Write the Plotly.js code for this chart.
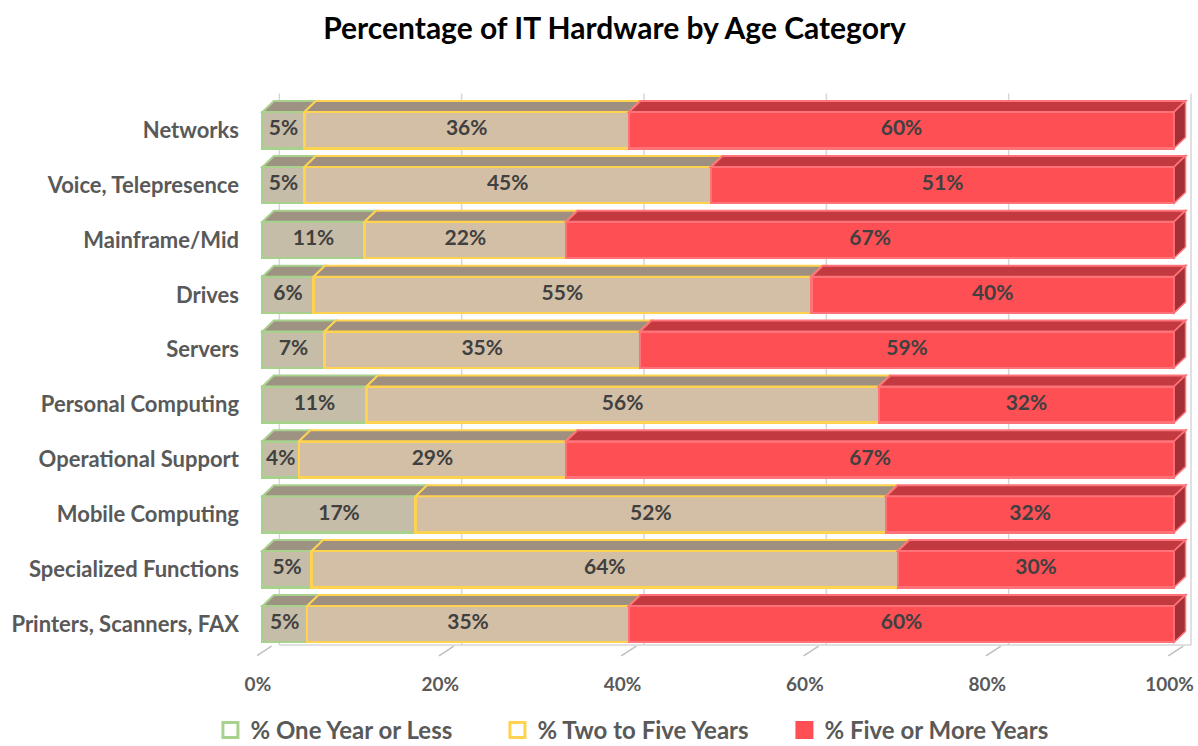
<!DOCTYPE html>
<html>
<head>
<meta charset="utf-8">
<script src="https://cdn.plot.ly/plotly-3.0.1.min.js"></script>
<style>html,body{margin:0;padding:0;background:#fff}#chart{width:1198px;height:746px}</style>
</head>
<body>
<div id="chart"></div>
<script>
// Categories from bottom to top
const categories = ['Printers, Scanners, FAX', 'Specialized Functions', 'Mobile Computing', 'Operational Support', 'Personal Computing', 'Servers', 'Drives', 'Mainframe/Mid', 'Voice, Telepresence', 'Networks'];
const oneYearOrLess = [4.9, 5.4, 16.8, 4.0, 11.4, 6.8, 5.6, 11.2, 4.6, 4.6];
const twoToFiveYears = [35.3, 64.3, 51.6, 29.3, 56.2, 34.6, 54.6, 22.1, 44.6, 35.6];
const fiveOrMoreYears = [59.8, 30.3, 31.6, 66.7, 32.4, 58.6, 39.8, 66.7, 50.8, 59.8];
const seriesNames = ['% One Year or Less', '% Two to Five Years', '% Five or More Years'];
const xTickVals = [0, 20, 40, 60, 80, 100];
const xTickText = ['0%', '20%', '40%', '60%', '80%', '100%'];

const FONT = 'Lato, "Open Sans", sans-serif';
const faceColors = ['#c6bda8', '#d3bfa6', '#fe4f55'];
const lineColors = ['#a9d18e', '#ffd34f', '#ff7378'];
const topColors = ['#9e9282', '#9e8f80', '#c23a40'];
const sideColor = '#a52f36';
const legendFill = ['#ffffff', '#ffffff', '#fe4f55'];

const BAR_W = 0.66, DX = 1.25, DY = 0.2, BACK = 1.85, FRONT = 0.5;
const series = [oneYearOrLess, twoToFiveYears, fiveOrMoreYears];
const yIdx = categories.map((_, i) => i);

const traces = [];
const shapes = [];
const textX = [], textY = [], textT = [];

series.forEach((vals, s) => {
  traces.push({
    type: 'bar', orientation: 'h', x: vals, y: yIdx, width: BAR_W,
    marker: {color: faceColors[s], line: {color: lineColors[s], width: 2.5}},
    showlegend: false, hoverinfo: 'skip'
  });
});

// back gridlines & floor ticks
xTickVals.forEach(v => {
  shapes.push({type: 'line', xref: 'x', yref: 'y', x0: v + BACK, x1: v + BACK, y0: -0.38, y1: 9.67,
    line: {color: '#d6d6d6', width: 1.5}, layer: 'below'});
  shapes.push({type: 'line', xref: 'x', yref: 'y', x0: v - 0.64, x1: v + 1.0, y0: -0.58, y1: -0.40,
    line: {color: '#bfbfbf', width: 1.5}, layer: 'below'});
});
shapes.push({type: 'line', xref: 'x', yref: 'y', x0: BACK, x1: 100 + BACK, y0: -0.38, y1: -0.38,
  line: {color: '#d6d6d6', width: 1.5}, layer: 'below'});

// 3D faces and labels
yIdx.forEach(i => {
  let start = 0;
  const top = i + BAR_W / 2;
  series.forEach((vals, s) => {
    const end = start + vals[i];
    shapes.push({type: 'path', xref: 'x', yref: 'y', layer: 'above',
      path: `M ${start},${top} L ${start + DX},${top + DY} L ${end + DX},${top + DY} L ${end},${top} Z`,
      fillcolor: topColors[s], line: {color: lineColors[s], width: 2}});
    if (s === series.length - 1) {
      const bot = i - BAR_W / 2;
      shapes.push({type: 'path', xref: 'x', yref: 'y', layer: 'above',
        path: `M ${end},${bot} L ${end},${top} L ${end + DX},${top + DY} L ${end + DX},${bot + DY} Z`,
        fillcolor: sideColor, line: {color: lineColors[s], width: 1.5}});
    }
    textX.push((start + end) / 2);
    textY.push(i);
    textT.push(Math.round(vals[i]) + '%');
    start = end;
  });
});

traces.push({
  type: 'scatter', mode: 'text', x: textX, y: textY, text: textT,
  textfont: {family: FONT, size: 21, color: '#404040', weight: 'bold'},
  cliponaxis: false, showlegend: false, hoverinfo: 'skip'
});

// legend entries
seriesNames.forEach((n, s) => {
  traces.push({
    type: 'scatter', mode: 'markers', x: [null], y: [null], name: n,
    marker: {symbol: 'square', size: 15, color: legendFill[s], line: {color: s === 2 ? faceColors[2] : lineColors[s], width: 3}},
    hoverinfo: 'skip'
  });
});

const layout = {
  width: 1198, height: 746,
  paper_bgcolor: '#ffffff', plot_bgcolor: 'rgba(0,0,0,0)',
  margin: {l: 257, r: 2, t: 89, b: 89},
  barmode: 'stack', bargap: 0.3,
  title: {text: 'Percentage of IT Hardware by Age Category', x: 0.513, xanchor: 'center', y: 0.962, yanchor: 'middle',
    font: {family: FONT, size: 30, color: '#000000', weight: 'bold'}},
  xaxis: {range: [-0.6, 102.4], tickvals: xTickVals.map(v => v - FRONT), ticktext: xTickText, showgrid: false, zeroline: false, showline: false,
    ticks: '', ticklabelstandoff: 14, ticklabeloverflow: 'allow', tickfont: {family: FONT, size: 19, color: '#595959', weight: 'bold'}, fixedrange: true},
  yaxis: {range: [-0.6, 9.75], tickvals: yIdx, ticktext: categories, showgrid: false, zeroline: false, showline: false,
    ticks: '', ticklabelstandoff: 17, tickfont: {family: FONT, size: 22, color: '#595959', weight: 'bold'}, fixedrange: true},
  legend: {orientation: 'h', traceorder: 'normal', xref: 'container', yref: 'container', x: 0.535, xanchor: 'center', y: 0.021, yanchor: 'middle',
    font: {family: FONT, size: 24, color: '#595959', weight: 'bold'}, entrywidth: 242, itemwidth: 30},
  shapes: shapes,
  showlegend: true
};

Plotly.newPlot('chart', traces, layout, {displayModeBar: false, staticPlot: true});
</script>
</body>
</html>
